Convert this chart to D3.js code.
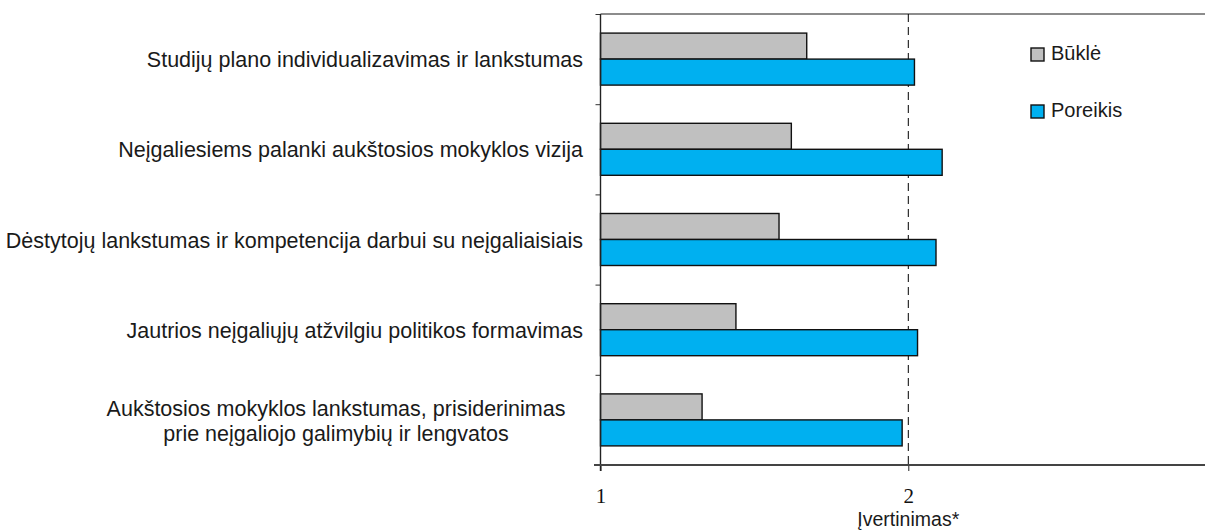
<!DOCTYPE html>
<html>
<head>
<meta charset="utf-8">
<script src="https://cdn.jsdelivr.net/npm/d3@7"></script>
<style>
  html, body { margin: 0; padding: 0; background: #fff; }
  svg { display: block; }
  .lbl { font-family: "Liberation Sans", Arial, sans-serif; fill: #1a1a1a; }
</style>
</head>
<body>
<div id="chart"></div>
<script>
// chart data
var categories = [
    ['Studijų plano individualizavimas ir lankstumas'],
    ['Neįgaliesiems palanki aukštosios mokyklos vizija'],
    ['Dėstytojų lankstumas ir kompetencija darbui su neįgaliaisiais'],
    ['Jautrios neįgaliųjų atžvilgiu politikos formavimas'],
    ['Aukštosios mokyklos lankstumas, prisiderinimas', 'prie neįgaliojo galimybių ir lengvatos']
];
var bukle = [1.67, 1.62, 1.58, 1.44, 1.33];
var poreikis = [2.02, 2.11, 2.09, 2.03, 1.98];
var seriesNames = ['Būklė', 'Poreikis'];
var seriesColors = ['#c0c0c0', '#00b0f0'];
var xTickValues = [1, 2];
var xTitle = 'Įvertinimas*';

var W = 1205, H = 531;
var plotLeft = 600.5, plotTop = 14, plotBottom = 465;

var svg = d3.select('#chart').append('svg')
    .attr('width', W).attr('height', H);

// scales
var x = d3.scaleLinear().domain([1, 3]).range([plotLeft, plotLeft + 2 * 307.8]);
var idx = d3.range(categories.length);
var y = d3.scaleBand().domain(idx).range([plotTop, plotBottom])
    .paddingInner(0.4235).paddingOuter(0.21175);
var ySub = d3.scaleBand().domain([0, 1]).range([0, y.bandwidth()]);
var yEdge = d3.scaleLinear().domain([0, categories.length]).range([plotTop, plotBottom]);

// top frame line
svg.append('line')
    .attr('x1', plotLeft).attr('x2', W).attr('y1', plotTop).attr('y2', plotTop)
    .attr('stroke', '#8c8c8c').attr('stroke-width', 2);

// dashed reference line at 2
svg.append('line')
    .attr('x1', x(2)).attr('x2', x(2)).attr('y1', plotTop).attr('y2', plotBottom)
    .attr('stroke', '#000').attr('stroke-width', 1)
    .attr('stroke-dasharray', '8,5');

// bars
var data = [bukle, poreikis];
data.forEach(function(vals, s) {
    svg.selectAll('.bar' + s).data(vals).enter().append('rect')
        .attr('class', 'bar' + s)
        .attr('x', x(1))
        .attr('y', function(d, i) { return y(i) + ySub(s); })
        .attr('width', function(d) { return x(d) - x(1); })
        .attr('height', ySub.bandwidth())
        .attr('fill', seriesColors[s])
        .attr('stroke', '#111').attr('stroke-width', 1.4);
});

// left axis (ticks at category boundaries)
var yAxis = d3.axisLeft(yEdge).tickValues(d3.range(categories.length + 1))
    .tickSize(5).tickSizeOuter(0).tickFormat('');
var ya = svg.append('g').attr('transform', 'translate(' + plotLeft + ',0)').call(yAxis);
ya.select('.domain').remove();
ya.selectAll('.tick line').attr('stroke', '#333').attr('stroke-width', 1);
svg.append('line')
    .attr('x1', plotLeft).attr('x2', plotLeft).attr('y1', plotTop).attr('y2', plotBottom + 6)
    .attr('stroke', '#222').attr('stroke-width', 1.4);

// bottom axis
var xAxis = d3.axisBottom(x).tickValues(xTickValues).tickSize(6).tickSizeOuter(0)
    .tickFormat(d3.format('d'));
var xa = svg.append('g').attr('transform', 'translate(0,' + plotBottom + ')').call(xAxis);
xa.select('.domain').remove();
xa.selectAll('.tick line').attr('stroke', '#222').attr('stroke-width', 1);
xa.selectAll('.tick text')
    .attr('y', 38).attr('dy', 0)
    .attr('font-family', '"Liberation Serif", "Times New Roman", serif')
    .attr('font-size', 21).attr('fill', '#111');
svg.append('line')
    .attr('x1', 594).attr('x2', W).attr('y1', plotBottom).attr('y2', plotBottom)
    .attr('stroke', '#444').attr('stroke-width', 2);

svg.append('text').attr('class', 'lbl')
    .attr('x', x(2)).attr('y', 526)
    .attr('text-anchor', 'middle').attr('font-size', 19.5)
    .text(xTitle);

// category labels
categories.forEach(function(lines, i) {
    var cy = y(i) + y.bandwidth() / 2;
    if (lines.length === 1) {
        svg.append('text').attr('class', 'lbl')
            .attr('x', 583).attr('y', cy + 8)
            .attr('text-anchor', 'end').attr('font-size', 21.5)
            .text(lines[0]);
    } else {
        lines.forEach(function(t, k) {
            svg.append('text').attr('class', 'lbl')
                .attr('x', 336).attr('y', cy - 4 + k * 25.5)
                .attr('text-anchor', 'middle').attr('font-size', 21.5)
                .text(t);
        });
    }
});

// legend
var legend = svg.append('g').attr('transform', 'translate(1031,48)');
seriesNames.forEach(function(name, s) {
    var g = legend.append('g').attr('transform', 'translate(0,' + (s * 57) + ')');
    g.append('rect').attr('width', 13).attr('height', 13)
        .attr('fill', seriesColors[s]).attr('stroke', '#111').attr('stroke-width', 1.4);
    g.append('text').attr('class', 'lbl')
        .attr('x', 20).attr('y', 11.5).attr('font-size', 20)
        .text(name);
});
</script>
</body>
</html>
